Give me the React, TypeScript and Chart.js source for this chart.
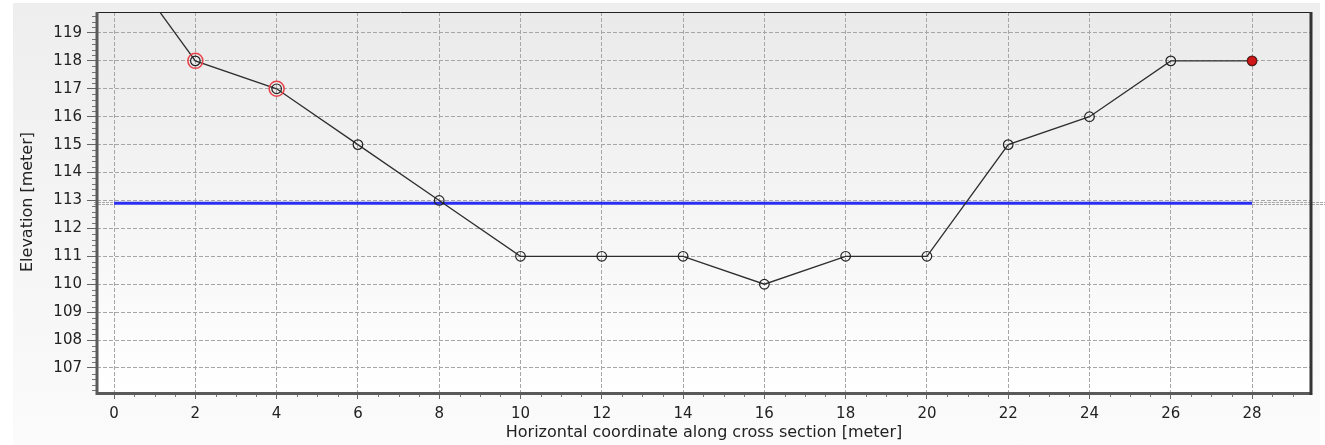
import React, { useEffect, useRef } from "react";
import { Chart, registerables } from "chart.js";

Chart.register(...registerables);

const stations = [0, 2, 4, 6, 8, 10, 12, 14, 16, 18, 20, 22, 24, 26, 28];
const elevations = [122, 118, 117, 115, 113, 111, 111, 111, 110, 111, 111, 115, 116, 118, 118];
const waterLevel = 112.9;
const waterStart = 0;
const waterEnd = 28;
const highlightedStations = [2, 4];
const endStation = 28;

const xMin = -0.42;
const xMax = 29.45;
const yMin = 106.14;
const yMax = 119.75;

const FONT = "'DejaVu Sans', Verdana, sans-serif";

export default function App() {
  const ref = useRef<HTMLCanvasElement | null>(null);

  useEffect(() => {
    const canvas = ref.current;
    if (!canvas) return;

    const groundData = stations.map((s, i) => ({ x: s, y: elevations[i] }));
    const ringData = highlightedStations.map((s) => ({ x: s, y: elevations[stations.indexOf(s)] }));
    const endData = [{ x: endStation, y: elevations[stations.indexOf(endStation)] }];
    const waterData = [
      { x: waterStart, y: waterLevel },
      { x: waterEnd, y: waterLevel },
    ];

    const framePlugin = {
      id: "frame",
      beforeDraw(chart: any) {
        const { ctx, chartArea: a } = chart;
        const g = ctx.createLinearGradient(0, a.top, 0, a.bottom);
        g.addColorStop(0, "#eaeaea");
        g.addColorStop(1, "#ffffff");
        ctx.save();
        ctx.fillStyle = g;
        ctx.fillRect(a.left, a.top, a.right - a.left, a.bottom - a.top);
        ctx.restore();
      },
      beforeDatasetsDraw(chart: any) {
        const { ctx, chartArea: a, scales } = chart;
        const y = scales.y.getPixelForValue(waterLevel);
        const x0 = scales.x.getPixelForValue(waterStart);
        const x1 = scales.x.getPixelForValue(waterEnd);
        ctx.save();
        ctx.strokeStyle = "#a8a8a8";
        ctx.lineWidth = 1;
        ctx.setLineDash([3, 1]);
        ctx.beginPath();
        for (const dy of [-0.5, 1.5]) {
          ctx.moveTo(a.left - 3, Math.round(y) + dy);
          ctx.lineTo(x0, Math.round(y) + dy);
          ctx.moveTo(x1, Math.round(y) + dy);
          ctx.lineTo(chart.width, Math.round(y) + dy);
        }
        ctx.stroke();
        ctx.restore();
      },
      afterDraw(chart: any) {
        const { ctx, chartArea: a, scales } = chart;
        ctx.save();
        ctx.strokeStyle = "#777";
        ctx.lineWidth = 1;
        ctx.beginPath();
        for (let v = 0; v <= xMax; v += 0.5) {
          if (Math.abs(v % 2) < 1e-6) continue;
          const px = Math.round(scales.x.getPixelForValue(v)) + 0.5;
          ctx.moveTo(px, a.bottom);
          ctx.lineTo(px, a.bottom + 5);
        }
        for (let k = Math.ceil(yMin * 5); k <= Math.floor(yMax * 5); k++) {
          if (k % 5 === 0) continue;
          const py = Math.round(scales.y.getPixelForValue(k / 5)) + 0.5;
          ctx.moveTo(a.left - 5, py);
          ctx.lineTo(a.left, py);
        }
        ctx.stroke();
        ctx.strokeStyle = "#222";
        ctx.lineWidth = 1;
        ctx.beginPath();
        ctx.moveTo(a.left, a.top + 0.5);
        ctx.lineTo(a.right, a.top + 0.5);
        ctx.stroke();
        ctx.strokeStyle = "#5a5a5a";
        ctx.lineWidth = 3;
        ctx.beginPath();
        ctx.moveTo(a.left, a.top);
        ctx.lineTo(a.left, a.bottom + 1.5);
        ctx.lineTo(a.right, a.bottom + 1.5);
        ctx.stroke();
        ctx.strokeStyle = "#333";
        ctx.lineWidth = 3;
        ctx.beginPath();
        ctx.moveTo(a.right, a.top);
        ctx.lineTo(a.right, a.bottom + 3);
        ctx.stroke();
        ctx.restore();
      },
    };

    const chart = new Chart(canvas, {
      type: "scatter",
      data: {
        datasets: [
          {
            label: "end",
            data: endData,
            showLine: false,
            pointRadius: 4.5,
            pointBackgroundColor: "#d01818",
            pointBorderColor: "#7a1010",
            pointBorderWidth: 1,
            order: 0,
          },
          {
            label: "selected",
            data: ringData,
            showLine: false,
            pointRadius: 7.5,
            pointBackgroundColor: "rgba(0,0,0,0)",
            pointBorderColor: "#e8414a",
            pointBorderWidth: 1.5,
            order: 1,
          },
          {
            label: "ground",
            data: groundData,
            showLine: true,
            borderColor: "#2e2e2e",
            borderWidth: 1.3,
            pointRadius: 4.8,
            pointBackgroundColor: "rgba(0,0,0,0)",
            pointBorderColor: "#222",
            pointBorderWidth: 1.2,
            order: 2,
          },
          {
            label: "water",
            data: waterData,
            showLine: true,
            borderColor: "#2a2ef0",
            borderWidth: 3,
            pointRadius: 0,
            order: 3,
          },
        ],
      },
      options: {
        responsive: false,
        animation: false,
        devicePixelRatio: 1,
        layout: { padding: { left: 0, top: 12, right: 14, bottom: 0 } },
        plugins: { legend: { display: false }, tooltip: { enabled: false } },
        scales: {
          x: {
            type: "linear",
            min: xMin,
            max: xMax,
            afterFit(scale: any) {
              scale.height = 53;
            },
            ticks: {
              stepSize: 2,
              includeBounds: false,
              color: "#222",
              font: { family: FONT, size: 15 },
              padding: 6,
              maxRotation: 0,
            },
            grid: {
              color: "#a6a6a6",
              lineWidth: 1,
              drawTicks: true,
              tickLength: 7,
              tickColor: "#666",
              tickBorderDash: [],
            },
            border: { display: false, dash: [4, 2] },
            title: {
              display: true,
              text: "Horizontal coordinate along cross section [meter]",
              color: "#222",
              font: { family: FONT, size: 16 },
              padding: { top: 0, bottom: 3 },
            },
          },
          y: {
            type: "linear",
            min: yMin,
            max: yMax,
            afterFit(scale: any) {
              scale.width = 97;
              scale.paddingTop = 0;
              scale.paddingBottom = 0;
            },
            ticks: {
              stepSize: 1,
              includeBounds: false,
              color: "#222",
              font: { family: FONT, size: 15 },
              padding: 5,
            },
            grid: {
              color: "#a6a6a6",
              lineWidth: 1,
              drawTicks: true,
              tickLength: 10,
              tickColor: "#666",
              tickBorderDash: [],
            },
            border: { display: false, dash: [4, 2] },
            title: {
              display: true,
              text: "Elevation [meter]",
              color: "#222",
              font: { family: FONT, size: 16 },
              padding: { top: 18, bottom: 0 },
            },
          },
        },
      },
      plugins: [framePlugin],
    } as any);

    return () => chart.destroy();
  }, []);

  return (
    <div style={{ position: "fixed", left: 0, top: 0, width: 1325, height: 445, background: "#ffffff" }}>
      <div
        style={{
          position: "absolute",
          left: 13,
          top: 3,
          width: 1307,
          height: 442,
          background: "linear-gradient(#eeeeee, #fbfbfb)",
        }}
      />
      <canvas ref={ref} width={1325} height={445} style={{ position: "absolute", left: 0, top: 0 }} />
    </div>
  );
}
